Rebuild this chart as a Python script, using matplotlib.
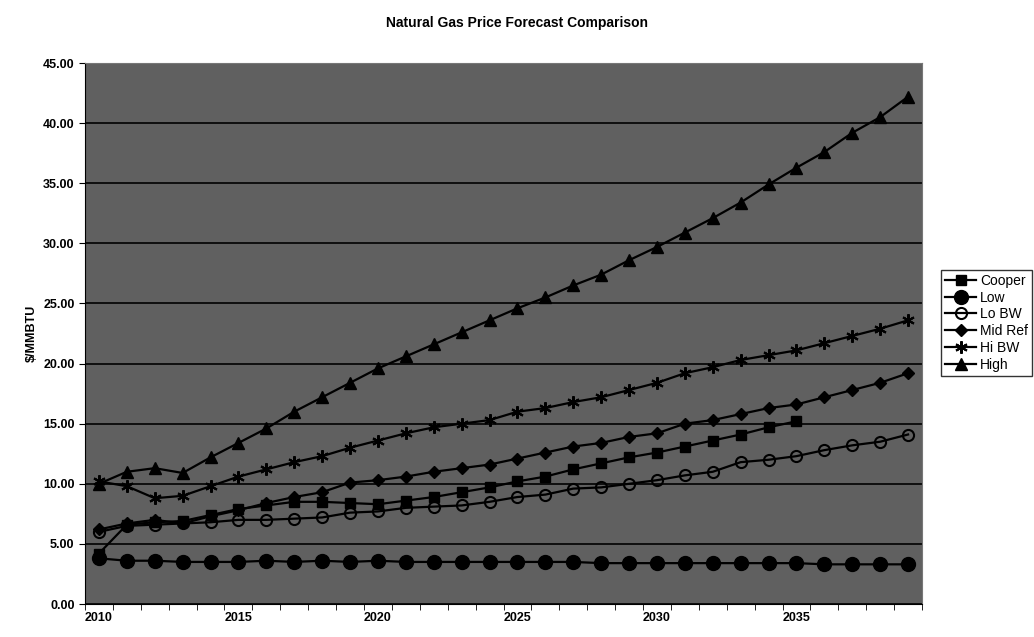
import numpy as np
import matplotlib
matplotlib.use("Agg")
from matplotlib import pyplot as plt

plt.rcParams['font.family'] = ['Liberation Sans', 'DejaVu Sans']

years = list(range(2010, 2040))
nan = np.nan

cooper = [4.2, 6.6, 6.8, 6.9, 7.4, 7.9, 8.2, 8.5, 8.5, 8.4,
          8.3, 8.6, 8.9, 9.3, 9.7, 10.2, 10.6, 11.2, 11.7, 12.2,
          12.6, 13.1, 13.6, 14.1, 14.7, 15.2, nan, nan, nan, nan]
low = [3.8, 3.6, 3.6, 3.5, 3.5, 3.5, 3.6, 3.5, 3.6, 3.5,
       3.6, 3.5, 3.5, 3.5, 3.5, 3.5, 3.5, 3.5, 3.4, 3.4,
       3.4, 3.4, 3.4, 3.4, 3.4, 3.4, 3.3, 3.3, 3.3, 3.3]
lo_bw = [6.0, 6.5, 6.6, 6.7, 6.8, 7.0, 7.0, 7.1, 7.2, 7.6,
         7.7, 8.0, 8.1, 8.2, 8.5, 8.9, 9.1, 9.6, 9.7, 10.0,
         10.3, 10.7, 11.0, 11.8, 12.0, 12.3, 12.8, 13.2, 13.5, 14.1]
mid_ref = [6.2, 6.7, 7.0, 6.7, 7.3, 7.8, 8.4, 8.9, 9.3, 10.1,
           10.3, 10.6, 11.0, 11.3, 11.6, 12.1, 12.6, 13.1, 13.4, 13.9,
           14.2, 15.0, 15.3, 15.8, 16.3, 16.6, 17.2, 17.8, 18.4, 19.2]
hi_bw = [10.2, 9.8, 8.8, 9.0, 9.8, 10.6, 11.2, 11.8, 12.3, 13.0,
         13.6, 14.2, 14.7, 15.0, 15.3, 16.0, 16.3, 16.8, 17.2, 17.8,
         18.4, 19.2, 19.7, 20.3, 20.7, 21.1, 21.7, 22.3, 22.9, 23.6]
high = [10.0, 11.0, 11.3, 10.9, 12.2, 13.4, 14.6, 16.0, 17.2, 18.4,
        19.6, 20.6, 21.6, 22.6, 23.6, 24.6, 25.5, 26.5, 27.4, 28.6,
        29.7, 30.9, 32.1, 33.4, 34.9, 36.3, 37.6, 39.2, 40.5, 42.2]

fig = plt.figure(figsize=(10.34, 6.37), dpi=100)
ax = fig.add_axes([0.0822, 0.0518, 0.8095, 0.8492])
ax.set_facecolor('#606060')

x = np.arange(len(years))
ax.plot(x, cooper, color='black', lw=1.6, marker='s', ms=7, label='Cooper')
ax.plot(x, low, color='black', lw=1.6, marker='o', ms=10, label='Low')
ax.plot(x, lo_bw, color='black', lw=1.6, marker='o', ms=8, mfc='none', mew=1.5, label='Lo BW')
ax.plot(x, mid_ref, color='black', lw=1.6, marker='D', ms=6, label='Mid Ref')
ax.plot(x, hi_bw, color='black', lw=1.6, marker=(6, 2, 0), ms=9, mew=1.5, label='Hi BW')
ax.plot(x, high, color='black', lw=1.6, marker='^', ms=8, label='High')

ax.set_xlim(-0.5, len(years) - 0.5)
ax.set_ylim(0, 45)
ax.set_yticks(np.arange(0, 46, 5))
ax.set_yticklabels([f'{v:.2f}' for v in np.arange(0, 46, 5)], fontsize=9, fontweight='bold')
ax.yaxis.grid(True, color='black', lw=1.2)
ax.set_axisbelow(True)

ax.set_xticks(x[::5])
ax.set_xticklabels([str(y) for y in years[::5]], fontsize=9, fontweight='bold')
ax.tick_params(axis='x', which='major', length=0, pad=6)
ax.set_xticks(np.arange(-0.5, len(years), 1), minor=True)
ax.tick_params(axis='x', which='minor', length=4, direction='out')
ax.tick_params(axis='y', length=4, direction='out')

for s in ['top', 'right']:
    ax.spines[s].set_color('#777777')
ax.spines['left'].set_color('black')
ax.spines['bottom'].set_color('black')

ax.set_ylabel('$/MMBTU', fontsize=9, fontweight='bold', labelpad=4)
fig.suptitle('Natural Gas Price Forecast Comparison', fontsize=10, fontweight='bold', y=0.975)

leg = ax.legend(loc='center left', bbox_to_anchor=(1.023, 0.52), fontsize=10,
                frameon=True, fancybox=False, edgecolor='black', handlelength=2.2,
                borderpad=0.3, labelspacing=0.2, handletextpad=0.3, borderaxespad=0)
leg.get_frame().set_linewidth(1.0)

fig.savefig('out.png', dpi=100)
